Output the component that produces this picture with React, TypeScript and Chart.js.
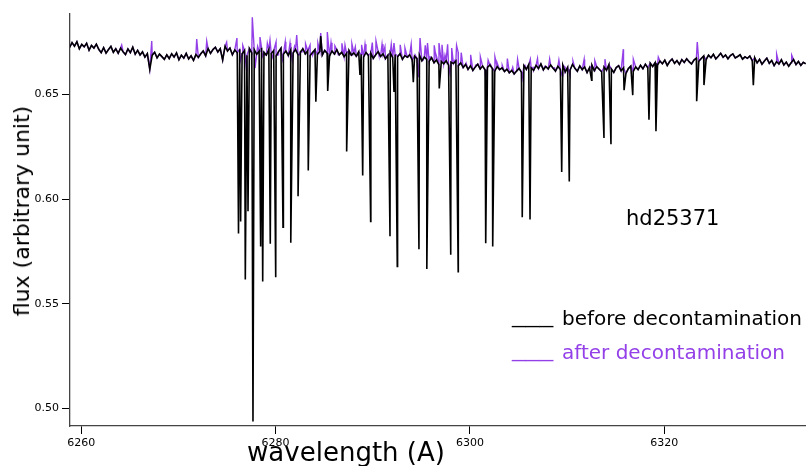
import React, { useEffect, useRef } from "react";
import { Chart, registerables } from "chart.js";

Chart.register(...registerables);

// ---- data ----
const WAVELENGTH_START = 6258.8;
const WAVELENGTH_STEP = 0.25;

// stellar continuum (shared by both spectra), one value per 0.25 A
const continuumFlux = [
  0.6725, 0.6748, 0.6731, 0.6752, 0.6719, 0.6740, 0.6728, 0.6745, 0.6712, 0.6735, 0.6722, 0.6741, 0.6716, 0.6700, 0.6724, 0.6698, 0.6715, 0.6730, 0.6702, 0.6719,
  0.6697, 0.6722, 0.6705, 0.6691, 0.6718, 0.6700, 0.6726, 0.6693, 0.6711, 0.6689, 0.6704, 0.6679, 0.6696, 0.6620, 0.6688, 0.6702, 0.6675, 0.6693, 0.6681, 0.6668,
  0.6690, 0.6672, 0.6695, 0.6679, 0.6699, 0.6666, 0.6688, 0.6674, 0.6697, 0.6670, 0.6685, 0.6663, 0.6691, 0.6677, 0.6695, 0.6708, 0.6685, 0.6720, 0.6697, 0.6715,
  0.6726, 0.6703, 0.6719, 0.6665, 0.6731, 0.6708, 0.6722, 0.6690, 0.6713, 0.6700, 0.6716, 0.6695, 0.6711, 0.6688, 0.6720, 0.6699, 0.6714, 0.6692, 0.6707, 0.6724,
  0.6702, 0.6689, 0.6715, 0.6696, 0.6710, 0.6684, 0.6705, 0.6721, 0.6693, 0.6708, 0.6687, 0.6712, 0.6698, 0.6716, 0.6690, 0.6703, 0.6719, 0.6694, 0.6709, 0.6686,
  0.6701, 0.6715, 0.6692, 0.6706, 0.6688, 0.6711, 0.6697, 0.6684, 0.6708, 0.6693, 0.6714, 0.6690, 0.6702, 0.6681, 0.6697, 0.6710, 0.6688, 0.6699, 0.6683, 0.6704,
  0.6692, 0.6679, 0.6701, 0.6686, 0.6697, 0.6673, 0.6690, 0.6705, 0.6682, 0.6694, 0.6671, 0.6688, 0.6699, 0.6676, 0.6691, 0.6680, 0.6695, 0.6668, 0.6686, 0.6678,
  0.6690, 0.6666, 0.6683, 0.6672, 0.6688, 0.6661, 0.6679, 0.6668, 0.6659, 0.6676, 0.6652, 0.6665, 0.6643, 0.6658, 0.6647, 0.6662, 0.6640, 0.6655, 0.6648, 0.6660,
  0.6638, 0.6651, 0.6629, 0.6644, 0.6620, 0.6637, 0.6615, 0.6632, 0.6645, 0.6622, 0.6636, 0.6618, 0.6630, 0.6641, 0.6624, 0.6612, 0.6633, 0.6619, 0.6627, 0.6610,
  0.6621, 0.6604, 0.6615, 0.6598, 0.6612, 0.6625, 0.6606, 0.6638, 0.6620, 0.6643, 0.6627, 0.6615, 0.6639, 0.6624, 0.6646, 0.6618, 0.6634, 0.6622, 0.6641, 0.6626,
  0.6612, 0.6635, 0.6620, 0.6641, 0.6608, 0.6630, 0.6617, 0.6644, 0.6625, 0.6611, 0.6637, 0.6619, 0.6632, 0.6605, 0.6628, 0.6640, 0.6614, 0.6633, 0.6621, 0.6609,
  0.6631, 0.6616, 0.6643, 0.6622, 0.6606, 0.6629, 0.6638, 0.6613, 0.6627, 0.6601, 0.6624, 0.6636, 0.6610, 0.6632, 0.6619, 0.6640, 0.6623, 0.6645, 0.6628, 0.6650,
  0.6634, 0.6652, 0.6641, 0.6660, 0.6647, 0.6664, 0.6639, 0.6658, 0.6670, 0.6649, 0.6662, 0.6644, 0.6667, 0.6653, 0.6671, 0.6657, 0.6646, 0.6665, 0.6674, 0.6659,
  0.6672, 0.6684, 0.6667, 0.6688, 0.6676, 0.6692, 0.6670, 0.6683, 0.6697, 0.6678, 0.6689, 0.6671, 0.6686, 0.6694, 0.6675, 0.6682, 0.6690, 0.6669, 0.6680, 0.6673,
  0.6684, 0.6662, 0.6676, 0.6651, 0.6668, 0.6645, 0.6660, 0.6674, 0.6649, 0.6663, 0.6638, 0.6657, 0.6646, 0.6666, 0.6641, 0.6655, 0.6635, 0.6652, 0.6667, 0.6643,
  0.6658, 0.6639, 0.6654, 0.6647,
];

// telluric absorption lines present before decontamination [wavelength, flux]
const beforeFeatures: [number, number][] = [
  [6276.18, 0.5835], [6276.40, 0.5893], [6276.88, 0.5615], [6277.16, 0.5942],
  [6277.67, 0.4936], [6278.46, 0.5773], [6278.67, 0.5606], [6279.45, 0.5786],
  [6280.01, 0.5626], [6280.76, 0.5865], [6281.56, 0.5791], [6282.31, 0.6014],
  [6283.36, 0.6137], [6284.14, 0.6465], [6284.64, 0.6780], [6285.36, 0.6517],
  [6287.31, 0.6228], [6288.68, 0.6593], [6288.96, 0.6113], [6289.78, 0.5893],
  [6291.77, 0.5822], [6292.18, 0.6512], [6292.52, 0.5678], [6294.17, 0.6559],
  [6294.75, 0.5760], [6295.56, 0.5666], [6296.84, 0.6529], [6298.02, 0.5734],
  [6298.79, 0.5653], [6301.62, 0.5789], [6302.34, 0.5773], [6305.38, 0.5913],
  [6306.18, 0.5902], [6309.44, 0.6129], [6310.22, 0.6084], [6312.52, 0.6569],
  [6313.79, 0.6292], [6314.51, 0.6262], [6315.86, 0.6521], [6316.75, 0.6497],
  [6318.42, 0.6380], [6319.14, 0.6324], [6323.33, 0.6468], [6324.08, 0.6545],
  [6329.16, 0.6545],
];

// residuals left after decontamination [wavelength, flux]
const afterFeatures: [number, number][] = [
  [6264.16, 0.6736], [6267.25, 0.6756], [6271.88, 0.6765], [6272.91, 0.6756],
  [6274.96, 0.6750], [6276.02, 0.6770], [6276.33, 0.6655], [6276.62, 0.6735],
  [6277.02, 0.6612], [6277.32, 0.6720], [6277.60, 0.6869], [6277.88, 0.6626],
  [6278.15, 0.6730], [6278.39, 0.6775], [6278.62, 0.6680], [6278.91, 0.6688],
  [6279.15, 0.6745], [6279.42, 0.6760], [6279.73, 0.6674], [6280.04, 0.6751],
  [6280.25, 0.6690], [6280.45, 0.6712], [6280.70, 0.6668], [6280.99, 0.6752],
  [6281.25, 0.6695], [6281.48, 0.6746], [6281.71, 0.6664], [6281.95, 0.6730],
  [6282.17, 0.6784], [6282.45, 0.6690], [6282.71, 0.6703], [6283.08, 0.6742],
  [6283.54, 0.6736], [6283.82, 0.6690], [6284.35, 0.6745], [6284.64, 0.6794],
  [6285.32, 0.6799], [6285.70, 0.6748], [6286.10, 0.6732], [6286.45, 0.6690],
  [6286.82, 0.6745], [6287.14, 0.6736], [6287.57, 0.6695], [6287.85, 0.6742],
  [6288.20, 0.6728], [6288.45, 0.6690], [6288.85, 0.6738], [6289.20, 0.6740],
  [6289.57, 0.6690], [6289.95, 0.6748], [6290.33, 0.6756], [6290.62, 0.6690],
  [6290.95, 0.6740], [6291.25, 0.6727], [6291.60, 0.6688], [6291.90, 0.6740],
  [6292.18, 0.6746], [6292.45, 0.6690], [6292.82, 0.6738], [6293.31, 0.6722],
  [6293.62, 0.6685], [6293.95, 0.6740], [6294.35, 0.6690], [6294.68, 0.6583],
  [6294.86, 0.6770], [6295.17, 0.6664], [6295.40, 0.6735], [6295.63, 0.6746],
  [6295.90, 0.6680], [6296.32, 0.6735], [6296.57, 0.6680], [6296.81, 0.6746],
  [6297.12, 0.6738], [6297.43, 0.6688], [6297.70, 0.6740], [6297.94, 0.6602],
  [6298.12, 0.6722], [6298.46, 0.6664], [6298.62, 0.6735], [6298.78, 0.6703],
  [6299.10, 0.6700], [6299.60, 0.6650], [6300.07, 0.6690], [6300.57, 0.6640],
  [6301.07, 0.6680], [6301.62, 0.6583], [6301.87, 0.6664], [6302.10, 0.6645],
  [6302.57, 0.6680], [6302.81, 0.6650], [6303.32, 0.6640], [6303.85, 0.6672],
  [6304.40, 0.6630], [6304.90, 0.6668], [6305.32, 0.6559], [6305.65, 0.6640],
  [6306.21, 0.6669], [6306.50, 0.6630], [6306.95, 0.6672], [6307.70, 0.6635],
  [6308.20, 0.6670], [6308.70, 0.6628], [6309.15, 0.6665], [6309.50, 0.6588],
  [6309.78, 0.6631], [6310.29, 0.6593], [6310.60, 0.6660], [6311.20, 0.6628],
  [6311.75, 0.6668], [6312.32, 0.6625], [6312.85, 0.6662], [6313.89, 0.6669],
  [6315.78, 0.6717], [6316.81, 0.6669], [6319.38, 0.6679], [6323.39, 0.6751],
  [6331.56, 0.6693], [6333.11, 0.6688],
];

const xTickValues = [6260, 6280, 6300, 6320];
const yTickValues = [0.5, 0.55, 0.6, 0.65];
const X_MIN = 6258.84;
const X_MAX = 6334.58;
const Y_MIN = 0.4915;
const Y_MAX = 0.6885;

const seriesNames = ["before decontamination", "after decontamination"];
const seriesColors = ["#000000", "#9440E8"];
const starName = "hd25371";
const xTitle = "wavelength (A)";
const yTitle = "flux (arbitrary unit)";

function buildSeries(features: [number, number][]) {
  const pts = continuumFlux.map((f, i) => ({ x: WAVELENGTH_START + i * WAVELENGTH_STEP, y: f }));
  features.forEach(([x, y]) => pts.push({ x, y }));
  pts.sort((a, b) => a.x - b.x);
  return pts;
}

const FONT = "'DejaVu Sans', sans-serif";

function Label(props: { text: string; left: number; baseline: number; size: number; color?: string }) {
  const { text, left, baseline, size, color } = props;
  return (
    <div
      style={{
        position: "absolute",
        left,
        top: baseline - 0.846 * size,
        fontFamily: FONT,
        fontSize: size,
        lineHeight: 1,
        whiteSpace: "nowrap",
        color: color || "#000",
      }}
    >
      {text}
    </div>
  );
}

function Dashes(props: { left: number; baseline: number; color: string }) {
  return (
    <div
      style={{
        position: "absolute",
        left: props.left,
        top: props.baseline - 0.846 * 20,
        fontFamily: FONT,
        fontSize: 20,
        lineHeight: 1,
        color: props.color,
        transform: "scaleX(1.37)",
        transformOrigin: "left",
        whiteSpace: "nowrap",
      }}
    >
      ___
    </div>
  );
}

export default function App() {
  const canvasRef = useRef<HTMLCanvasElement | null>(null);

  useEffect(() => {
    const canvas = canvasRef.current;
    if (!canvas) return;
    const chart = new Chart(canvas, {
      type: "line",
      data: {
        datasets: [
          {
            label: seriesNames[0],
            data: buildSeries(beforeFeatures),
            borderColor: seriesColors[0],
            borderWidth: 1.6,
            pointRadius: 0,
            tension: 0,
            fill: false,
          },
          {
            label: seriesNames[1],
            data: buildSeries(afterFeatures),
            borderColor: seriesColors[1],
            borderWidth: 1.4,
            pointRadius: 0,
            tension: 0,
            fill: false,
          },
        ],
      },
      options: {
        animation: false,
        responsive: false,
        maintainAspectRatio: false,
        layout: { padding: { top: 14, right: 0, left: 0, bottom: 0 } },
        plugins: { legend: { display: false }, tooltip: { enabled: false } },
        scales: {
          x: {
            type: "linear",
            min: X_MIN,
            max: X_MAX,
            grid: { drawOnChartArea: false, drawTicks: true, tickLength: 8, tickColor: "#000", tickWidth: 1 },
            border: { display: true, color: "#444", width: 1.3 },
            ticks: {
              font: { family: FONT, size: 11 },
              color: "#000",
              padding: 3,
              maxRotation: 0,
              autoSkip: false,
              callback: (v: any) => String(Math.round(Number(v))),
            },
            afterBuildTicks: (s: any) => {
              s.ticks = xTickValues.map((v) => ({ value: v }));
            },
            afterFit: (s: any) => {
              s.height = 40;
            },
          },
          y: {
            type: "linear",
            min: Y_MIN,
            max: Y_MAX,
            grid: { drawOnChartArea: false, drawTicks: true, tickLength: 8, tickColor: "#000", tickWidth: 1 },
            border: { display: true, color: "#444", width: 1.3 },
            ticks: {
              font: { family: FONT, size: 11 },
              color: "#000",
              padding: 3,
              callback: (v: any) => Number(v).toFixed(2),
            },
            afterBuildTicks: (s: any) => {
              s.ticks = yTickValues.map((v) => ({ value: v }));
            },
            afterFit: (s: any) => {
              s.width = 70;
            },
          },
        },
      },
    } as any);
    return () => chart.destroy();
  }, []);

  return (
    <div style={{ position: "fixed", left: 0, top: 0, width: 806, height: 466, background: "#fff", overflow: "hidden" }}>
      <canvas ref={canvasRef} width={806} height={466} style={{ display: "block", width: 806, height: 466 }} />
      <div
        style={{
          position: "absolute",
          left: 22,
          top: 211,
          transform: "translate(-50%, -50%) rotate(-90deg)",
          fontFamily: FONT,
          fontSize: 22,
          lineHeight: 1,
          whiteSpace: "nowrap",
          color: "#000",
        }}
      >
        {yTitle}
      </div>
      <div
        style={{
          position: "absolute",
          left: 346,
          top: 461 - 0.846 * 26,
          transform: "translateX(-50%)",
          fontFamily: FONT,
          fontSize: 26,
          lineHeight: 1,
          whiteSpace: "nowrap",
          color: "#000",
        }}
      >
        {xTitle}
      </div>
      <Label text={starName} left={626} baseline={226} size={21} />
      <Dashes left={512} baseline={323} color={seriesColors[0]} />
      <Label text={seriesNames[0]} left={562} baseline={325} size={20} color={seriesColors[0]} />
      <Dashes left={512} baseline={357} color={seriesColors[1]} />
      <Label text={seriesNames[1]} left={562} baseline={359} size={20} color={seriesColors[1]} />
    </div>
  );
}
